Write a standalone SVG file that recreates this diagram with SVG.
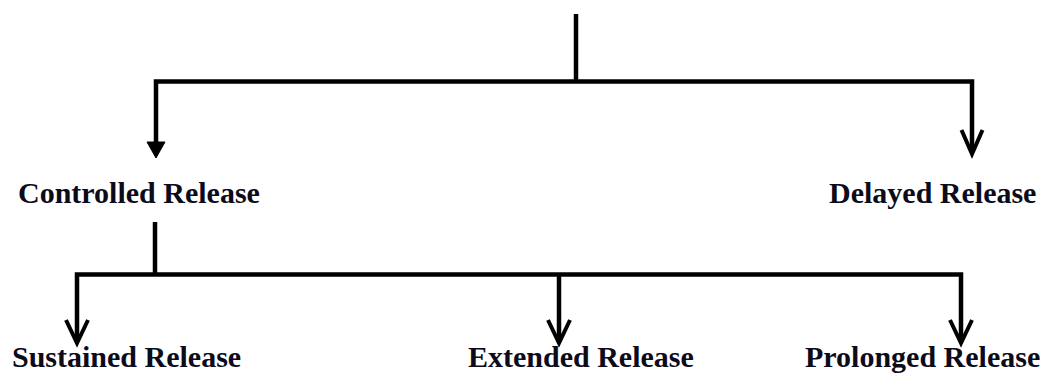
<svg xmlns="http://www.w3.org/2000/svg" width="1047" height="374" viewBox="0 0 1047 374">
  <style>
    .wire { fill: none; stroke: #000; stroke-width: 4.5; stroke-linejoin: miter; stroke-linecap: butt; }
    .head { fill: none; stroke: #000; stroke-width: 4; stroke-linejoin: miter; }
    .solid { fill: #000; stroke: #000; stroke-width: 1; }
    .label { font-family: "Liberation Serif", "Times New Roman", serif; font-weight: bold; font-size: 30px; fill: #0b0b1a; }
  </style>
  <rect width="1047" height="374" fill="#fff"/>

  <g id="connectors">
    <!-- root stem and first-level branch -->
    <path class="wire" d="M576 14 V81.5"/>
    <path class="wire" d="M156 144 V81.5 H972 V152"/>
    <path class="solid" d="M147 142 L165 142 L156 158 Z"/>
    <path class="head" d="M961.5 130 L972 154 L982.5 130"/>

    <!-- second-level branch under Controlled Release -->
    <path class="wire" d="M155 222 V274.5"/>
    <path class="wire" d="M77 341 V274.5 H961 V341"/>
    <path class="wire" d="M559 274.5 V341"/>
    <path class="head" d="M66 320 L77 343 L88 320"/>
    <path class="head" d="M548 320 L559 343 L570 320"/>
    <path class="head" d="M950 320 L961 343 L972 320"/>
  </g>

  <g id="controlled-release">
    <text class="label" x="18" y="203">Controlled Release</text>
  </g>
  <g id="delayed-release">
    <text class="label" x="829" y="203">Delayed Release</text>
  </g>
  <g id="sustained-release">
    <text class="label" x="12" y="367">Sustained Release</text>
  </g>
  <g id="extended-release">
    <text class="label" x="468" y="367">Extended Release</text>
  </g>
  <g id="prolonged-release">
    <text class="label" x="805" y="367">Prolonged Release</text>
  </g>
</svg>
